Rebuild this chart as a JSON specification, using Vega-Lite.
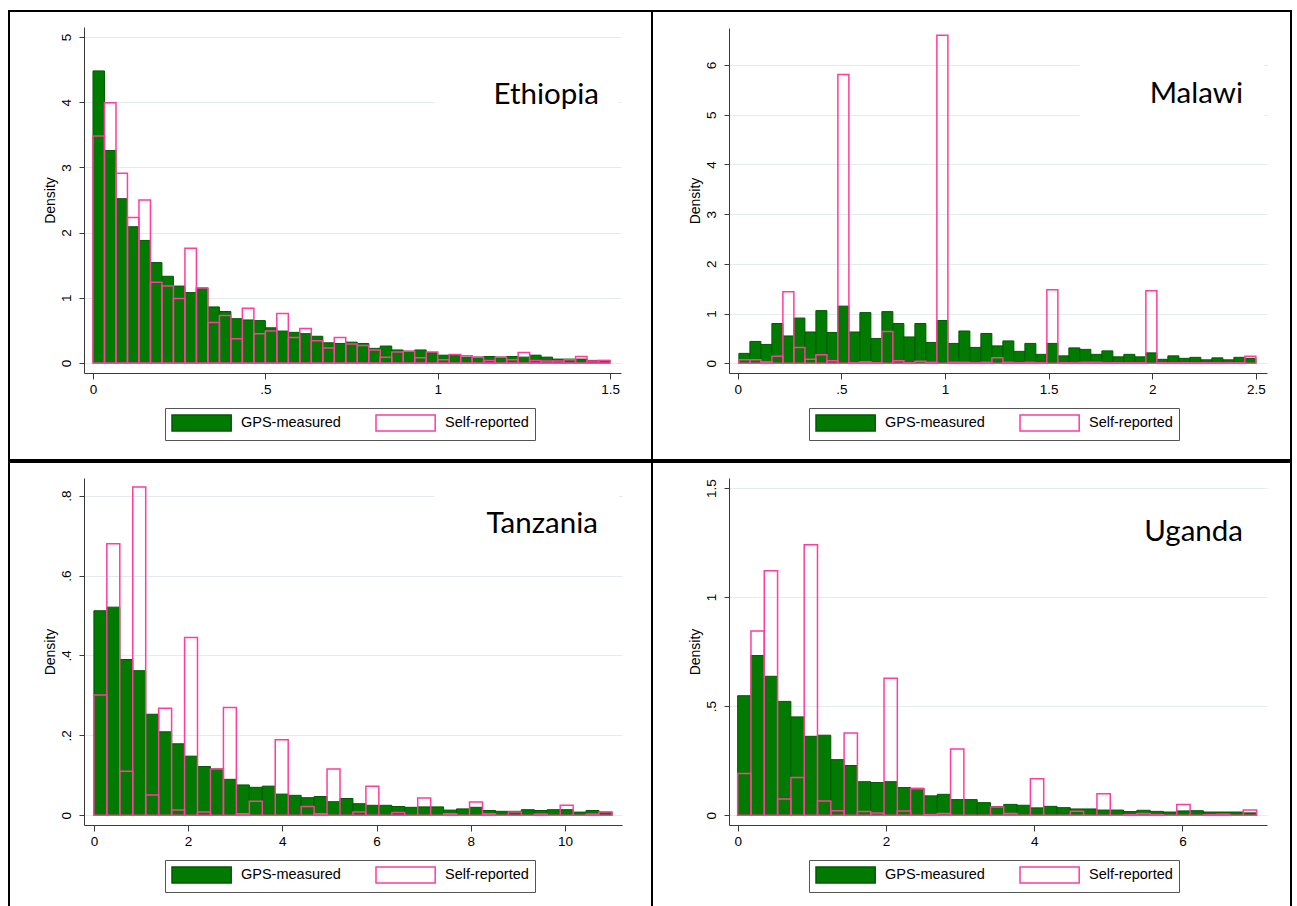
{
  "$schema": "https://vega.github.io/schema/vega-lite/v6.json",
  "background": "white",
  "padding": {"left": 8, "top": 10, "right": 0, "bottom": 0},
  "spacing": 0,
  "resolve": {"scale": {"fill": "independent", "stroke": "independent"}, "legend": {"fill": "independent", "stroke": "independent"}},
  "config": {
    "view": {"stroke": "black", "strokeWidth": 2, "fill": "white"},
    "concat": {"spacing": 0},
    "axis": {
      "labelFont": "Liberation Sans", "labelFontSize": 13.5, "labelColor": "#000",
      "titleFont": "Liberation Sans", "titleFontSize": 14, "titleFontWeight": "normal", "titleColor": "#000",
      "domainColor": "#3a3a3a", "tickColor": "#3a3a3a", "gridColor": "#e3ebee", "gridWidth": 1,
      "labelFlush": false, "labelOverlap": false,
      "labelExpr": "datum.value > 0 && datum.value < 1 ? slice(toString(datum.value), 1) : toString(datum.value)"
    },
    "axisX": {"grid": false, "tickSize": 6, "labelPadding": 3},
    "axisY": {"grid": true, "tickSize": 5, "labelAngle": 270, "labelAlign": "center", "labelBaseline": "bottom", "labelPadding": 6, "titlePadding": 2},
    "legend": {
      "orient": "none", "direction": "horizontal",
      "symbolType": "M-1,-1H6.4V1H-1Z", "symbolSize": 256, "symbolStrokeWidth": 1.5,
      "labelFont": "Liberation Sans", "labelFontSize": 14.5, "labelColor": "#000", "labelOffset": 52,
      "columnPadding": 32, "padding": 6, "strokeColor": "#555555", "fillColor": "white"
    }
  },
  "datasets": {
    "eth": [
      {"start":0,"end":0.0333,"gps":4.48,"self":3.48},
      {"start":0.0333,"end":0.0667,"gps":3.26,"self":3.99},
      {"start":0.0667,"end":0.1,"gps":2.52,"self":2.91},
      {"start":0.1,"end":0.1333,"gps":2.09,"self":2.23},
      {"start":0.1333,"end":0.1667,"gps":1.88,"self":2.5},
      {"start":0.1667,"end":0.2,"gps":1.54,"self":1.24},
      {"start":0.2,"end":0.2333,"gps":1.33,"self":1.18},
      {"start":0.2333,"end":0.2667,"gps":1.18,"self":0.99},
      {"start":0.2667,"end":0.3,"gps":1.08,"self":1.76},
      {"start":0.3,"end":0.3333,"gps":1.15,"self":1.15},
      {"start":0.3333,"end":0.3667,"gps":0.86,"self":0.62},
      {"start":0.3667,"end":0.4,"gps":0.79,"self":0.73},
      {"start":0.4,"end":0.4333,"gps":0.68,"self":0.37},
      {"start":0.4333,"end":0.4667,"gps":0.66,"self":0.84},
      {"start":0.4667,"end":0.5,"gps":0.65,"self":0.45},
      {"start":0.5,"end":0.5333,"gps":0.54,"self":0.49},
      {"start":0.5333,"end":0.5667,"gps":0.49,"self":0.76},
      {"start":0.5667,"end":0.6,"gps":0.47,"self":0.39},
      {"start":0.6,"end":0.6333,"gps":0.45,"self":0.53},
      {"start":0.6333,"end":0.6667,"gps":0.41,"self":0.34},
      {"start":0.6667,"end":0.7,"gps":0.31,"self":0.23},
      {"start":0.7,"end":0.7333,"gps":0.3,"self":0.39},
      {"start":0.7333,"end":0.7667,"gps":0.32,"self":0.29},
      {"start":0.7667,"end":0.8,"gps":0.3,"self":0.27},
      {"start":0.8,"end":0.8333,"gps":0.225,"self":0.2},
      {"start":0.8333,"end":0.8667,"gps":0.26,"self":0.09},
      {"start":0.8667,"end":0.9,"gps":0.2,"self":0.17},
      {"start":0.9,"end":0.9333,"gps":0.18,"self":0.18},
      {"start":0.9333,"end":0.9667,"gps":0.2,"self":0.08},
      {"start":0.9667,"end":1,"gps":0.16,"self":0.17},
      {"start":1,"end":1.0333,"gps":0.12,"self":0.05},
      {"start":1.0333,"end":1.0667,"gps":0.12,"self":0.13},
      {"start":1.0667,"end":1.1,"gps":0.09,"self":0.11},
      {"start":1.1,"end":1.1333,"gps":0.09,"self":0.09},
      {"start":1.1333,"end":1.1667,"gps":0.1,"self":0.04},
      {"start":1.1667,"end":1.2,"gps":0.09,"self":0.09},
      {"start":1.2,"end":1.2333,"gps":0.1,"self":0.05},
      {"start":1.2333,"end":1.2667,"gps":0.09,"self":0.16},
      {"start":1.2667,"end":1.3,"gps":0.12,"self":0.04},
      {"start":1.3,"end":1.3333,"gps":0.09,"self":0.03},
      {"start":1.3333,"end":1.3667,"gps":0.06,"self":0.03},
      {"start":1.3667,"end":1.4,"gps":0.06,"self":0.05},
      {"start":1.4,"end":1.4333,"gps":0.06,"self":0.1},
      {"start":1.4333,"end":1.4667,"gps":0.04,"self":0.03},
      {"start":1.4667,"end":1.5,"gps":0.04,"self":0.04}
    ],
    "mal": [
      {"start":0.006,"end":0.0591,"gps":0.2,"self":0.07},
      {"start":0.0591,"end":0.1121,"gps":0.44,"self":0.07},
      {"start":0.1121,"end":0.1652,"gps":0.38,"self":0.03},
      {"start":0.1652,"end":0.2182,"gps":0.8,"self":0.14},
      {"start":0.2182,"end":0.2713,"gps":0.55,"self":1.44},
      {"start":0.2713,"end":0.3244,"gps":0.91,"self":0.32},
      {"start":0.3244,"end":0.3774,"gps":0.63,"self":0.08},
      {"start":0.3774,"end":0.4305,"gps":1.06,"self":0.17},
      {"start":0.4305,"end":0.4835,"gps":0.62,"self":0.05},
      {"start":0.4835,"end":0.5366,"gps":1.15,"self":5.81},
      {"start":0.5366,"end":0.5897,"gps":0.63,"self":0.01},
      {"start":0.5897,"end":0.6427,"gps":1.02,"self":0.03},
      {"start":0.6427,"end":0.6958,"gps":0.5,"self":0.01},
      {"start":0.6958,"end":0.7488,"gps":1.04,"self":0.64},
      {"start":0.7488,"end":0.8019,"gps":0.8,"self":0.05},
      {"start":0.8019,"end":0.855,"gps":0.53,"self":0.01},
      {"start":0.855,"end":0.908,"gps":0.8,"self":0.04},
      {"start":0.908,"end":0.9611,"gps":0.42,"self":0.02},
      {"start":0.9611,"end":1.0141,"gps":0.86,"self":6.6},
      {"start":1.0141,"end":1.0672,"gps":0.4,"self":0.02},
      {"start":1.0672,"end":1.1203,"gps":0.65,"self":0.02},
      {"start":1.1203,"end":1.1733,"gps":0.32,"self":0.01},
      {"start":1.1733,"end":1.2264,"gps":0.6,"self":0.02},
      {"start":1.2264,"end":1.2794,"gps":0.35,"self":0.11},
      {"start":1.2794,"end":1.3325,"gps":0.45,"self":0.02},
      {"start":1.3325,"end":1.3856,"gps":0.24,"self":0.01},
      {"start":1.3856,"end":1.4386,"gps":0.4,"self":0.02},
      {"start":1.4386,"end":1.4917,"gps":0.18,"self":0.01},
      {"start":1.4917,"end":1.5447,"gps":0.4,"self":1.48},
      {"start":1.5447,"end":1.5978,"gps":0.15,"self":0.01},
      {"start":1.5978,"end":1.6509,"gps":0.31,"self":0.01},
      {"start":1.6509,"end":1.7039,"gps":0.28,"self":0.02},
      {"start":1.7039,"end":1.757,"gps":0.18,"self":0.02},
      {"start":1.757,"end":1.81,"gps":0.25,"self":0.01},
      {"start":1.81,"end":1.8631,"gps":0.13,"self":0.01},
      {"start":1.8631,"end":1.9162,"gps":0.18,"self":0.01},
      {"start":1.9162,"end":1.9692,"gps":0.13,"self":0.01},
      {"start":1.9692,"end":2.0223,"gps":0.21,"self":1.46},
      {"start":2.0223,"end":2.0753,"gps":0.08,"self":0.01},
      {"start":2.0753,"end":2.1284,"gps":0.15,"self":0.01},
      {"start":2.1284,"end":2.1815,"gps":0.1,"self":0.01},
      {"start":2.1815,"end":2.2345,"gps":0.12,"self":0.01},
      {"start":2.2345,"end":2.2876,"gps":0.07,"self":0.01},
      {"start":2.2876,"end":2.3406,"gps":0.11,"self":0.01},
      {"start":2.3406,"end":2.3937,"gps":0.07,"self":0.01},
      {"start":2.3937,"end":2.4468,"gps":0.12,"self":0.01},
      {"start":2.4468,"end":2.5,"gps":0.1,"self":0.14}
    ],
    "tan": [
      {"start":0,"end":0.275,"gps":0.512,"self":0.301},
      {"start":0.275,"end":0.55,"gps":0.521,"self":0.68},
      {"start":0.55,"end":0.825,"gps":0.39,"self":0.11},
      {"start":0.825,"end":1.1,"gps":0.362,"self":0.822},
      {"start":1.1,"end":1.375,"gps":0.253,"self":0.051},
      {"start":1.375,"end":1.65,"gps":0.209,"self":0.268},
      {"start":1.65,"end":1.925,"gps":0.179,"self":0.013},
      {"start":1.925,"end":2.2,"gps":0.148,"self":0.445},
      {"start":2.2,"end":2.475,"gps":0.122,"self":0.008},
      {"start":2.475,"end":2.75,"gps":0.116,"self":0.116},
      {"start":2.75,"end":3.025,"gps":0.09,"self":0.27},
      {"start":3.025,"end":3.3,"gps":0.076,"self":0.004},
      {"start":3.3,"end":3.575,"gps":0.07,"self":0.035},
      {"start":3.575,"end":3.85,"gps":0.073,"self":0},
      {"start":3.85,"end":4.125,"gps":0.053,"self":0.189},
      {"start":4.125,"end":4.4,"gps":0.05,"self":0},
      {"start":4.4,"end":4.675,"gps":0.044,"self":0.022},
      {"start":4.675,"end":4.95,"gps":0.047,"self":0.004},
      {"start":4.95,"end":5.225,"gps":0.034,"self":0.116},
      {"start":5.225,"end":5.5,"gps":0.042,"self":0},
      {"start":5.5,"end":5.775,"gps":0.029,"self":0.008},
      {"start":5.775,"end":6.05,"gps":0.025,"self":0.073},
      {"start":6.05,"end":6.325,"gps":0.025,"self":0},
      {"start":6.325,"end":6.6,"gps":0.022,"self":0.007},
      {"start":6.6,"end":6.875,"gps":0.02,"self":0},
      {"start":6.875,"end":7.15,"gps":0.021,"self":0.043},
      {"start":7.15,"end":7.425,"gps":0.021,"self":0},
      {"start":7.425,"end":7.7,"gps":0.013,"self":0.004},
      {"start":7.7,"end":7.975,"gps":0.016,"self":0},
      {"start":7.975,"end":8.25,"gps":0.02,"self":0.033},
      {"start":8.25,"end":8.525,"gps":0.012,"self":0.004},
      {"start":8.525,"end":8.8,"gps":0.01,"self":0},
      {"start":8.8,"end":9.075,"gps":0.01,"self":0.008},
      {"start":9.075,"end":9.35,"gps":0.014,"self":0},
      {"start":9.35,"end":9.625,"gps":0.012,"self":0.003},
      {"start":9.625,"end":9.9,"gps":0.014,"self":0},
      {"start":9.9,"end":10.175,"gps":0.014,"self":0.025},
      {"start":10.175,"end":10.45,"gps":0.008,"self":0},
      {"start":10.45,"end":10.725,"gps":0.012,"self":0.003},
      {"start":10.725,"end":11,"gps":0.008,"self":0.008}
    ],
    "uga": [
      {"start":0,"end":0.1795,"gps":0.548,"self":0.191},
      {"start":0.1795,"end":0.359,"gps":0.732,"self":0.845},
      {"start":0.359,"end":0.5385,"gps":0.637,"self":1.121},
      {"start":0.5385,"end":0.7179,"gps":0.522,"self":0.075},
      {"start":0.7179,"end":0.8974,"gps":0.451,"self":0.173},
      {"start":0.8974,"end":1.0769,"gps":0.362,"self":1.24},
      {"start":1.0769,"end":1.2564,"gps":0.367,"self":0.066},
      {"start":1.2564,"end":1.4359,"gps":0.255,"self":0.021},
      {"start":1.4359,"end":1.6154,"gps":0.228,"self":0.377},
      {"start":1.6154,"end":1.7949,"gps":0.154,"self":0.017},
      {"start":1.7949,"end":1.9744,"gps":0.15,"self":0.011},
      {"start":1.9744,"end":2.1538,"gps":0.154,"self":0.628},
      {"start":2.1538,"end":2.3333,"gps":0.127,"self":0.02},
      {"start":2.3333,"end":2.5128,"gps":0.124,"self":0.122},
      {"start":2.5128,"end":2.6923,"gps":0.089,"self":0.003},
      {"start":2.6923,"end":2.8718,"gps":0.096,"self":0.008},
      {"start":2.8718,"end":3.0513,"gps":0.072,"self":0.304},
      {"start":3.0513,"end":3.2308,"gps":0.072,"self":0},
      {"start":3.2308,"end":3.4103,"gps":0.058,"self":0},
      {"start":3.4103,"end":3.5897,"gps":0.04,"self":0.038},
      {"start":3.5897,"end":3.7692,"gps":0.05,"self":0.008},
      {"start":3.7692,"end":3.9487,"gps":0.046,"self":0},
      {"start":3.9487,"end":4.1282,"gps":0.034,"self":0.167},
      {"start":4.1282,"end":4.3077,"gps":0.041,"self":0},
      {"start":4.3077,"end":4.4872,"gps":0.035,"self":0},
      {"start":4.4872,"end":4.6667,"gps":0.029,"self":0.018},
      {"start":4.6667,"end":4.8462,"gps":0.029,"self":0},
      {"start":4.8462,"end":5.0256,"gps":0.024,"self":0.099},
      {"start":5.0256,"end":5.2051,"gps":0.024,"self":0},
      {"start":5.2051,"end":5.3846,"gps":0.017,"self":0.003},
      {"start":5.3846,"end":5.5641,"gps":0.023,"self":0.008},
      {"start":5.5641,"end":5.7436,"gps":0.018,"self":0.003},
      {"start":5.7436,"end":5.9231,"gps":0.015,"self":0},
      {"start":5.9231,"end":6.1026,"gps":0.02,"self":0.05},
      {"start":6.1026,"end":6.2821,"gps":0.021,"self":0},
      {"start":6.2821,"end":6.4615,"gps":0.015,"self":0.003},
      {"start":6.4615,"end":6.641,"gps":0.015,"self":0.005},
      {"start":6.641,"end":6.8205,"gps":0.015,"self":0},
      {"start":6.8205,"end":7,"gps":0.011,"self":0.024}
    ]
  },
  "vconcat": [
    {
      "resolve": {"scale": {"fill": "independent", "stroke": "independent"}, "legend": {"fill": "independent", "stroke": "independent"}},
      "hconcat": [
        {
          "width": 643, "height": 449,
          "data": {"name": "eth"},
          "transform": [{"fold": ["gps", "self"], "as": ["series", "density"]}],
          "layer": [
            {
              "data": {"values": [{}]},
              "mark": {"type": "rect", "color": "white"},
              "encoding": {"x": {"datum": 0.99}, "x2": {"datum": 1.525}, "y": {"datum": 3.5}, "y2": {"datum": 4.6}}
            },
            {
              "transform": [{"filter": "datum.series == 'gps'"}],
              "mark": {"type": "bar", "strokeWidth": 1},
              "encoding": {
                "x": {"field": "start", "type": "quantitative", "scale": {"domain": [-0.0261, 1.5318], "range": [75, 612], "nice": false, "zero": false},
                      "axis": {"title": null, "values": [0, 0.5, 1, 1.5], "offset": -87}},
                "x2": {"field": "end"},
                "y": {"field": "density", "type": "quantitative", "scale": {"domain": [-0.1534, 5.1534], "range": [362, 16], "nice": false, "zero": false},
                      "axis": {"title": "Density", "values": [0, 1, 2, 3, 4, 5], "offset": -75}},
                "y2": {"datum": 0},
                "fill": {"field": "series", "type": "nominal", "scale": {"domain": ["gps", "self"], "range": ["#007a00", "rgba(255,255,255,0)"]},
                         "legend": {"title": null, "legendX": 156, "legendY": 397, "labelExpr": "datum.label == 'gps' ? 'GPS-measured' : 'Self-reported'"}},
                "stroke": {"field": "series", "type": "nominal", "scale": {"domain": ["gps", "self"], "range": ["#005a00", "#ff3d9e"]},
                         "legend": {"title": null, "legendX": 156, "legendY": 397, "labelExpr": "datum.label == 'gps' ? 'GPS-measured' : 'Self-reported'"}}
              }
            },
            {
              "transform": [{"filter": "datum.series == 'self'"}],
              "mark": {"type": "bar", "strokeWidth": 1.5},
              "encoding": {
                "x": {"field": "start", "type": "quantitative"},
                "x2": {"field": "end"},
                "y": {"field": "density", "type": "quantitative"},
                "y2": {"datum": 0},
                "fill": {"field": "series", "type": "nominal"},
                "stroke": {"field": "series", "type": "nominal"}
              }
            },
            {
              "data": {"values": [{"name": "Ethiopia"}]},
              "mark": {"type": "text", "font": "Lato", "fontSize": 29.5, "color": "#000", "align": "right", "baseline": "alphabetic"},
              "encoding": {"x": {"datum": 1.468}, "y": {"datum": 3.97}, "text": {"field": "name"}}
            }
          ]
        },
        {
          "width": 639, "height": 449,
          "data": {"name": "mal"},
          "transform": [{"fold": ["gps", "self"], "as": ["series", "density"]}],
          "layer": [
            {
              "data": {"values": [{}]},
              "mark": {"type": "rect", "color": "white"},
              "encoding": {"x": {"datum": 1.65}, "x2": {"datum": 2.54}, "y": {"datum": 4.7}, "y2": {"datum": 6.4}}
            },
            {
              "transform": [{"filter": "datum.series == 'gps'"}],
              "mark": {"type": "bar", "strokeWidth": 1},
              "encoding": {
                "x": {"field": "start", "type": "quantitative", "scale": {"domain": [-0.0417, 2.5536], "range": [77, 615], "nice": false, "zero": false},
                      "axis": {"title": null, "values": [0, 0.5, 1, 1.5, 2, 2.5], "offset": -87}},
                "x2": {"field": "end"},
                "y": {"field": "density", "type": "quantitative", "scale": {"domain": [-0.195, 6.744], "range": [362, 17], "nice": false, "zero": false},
                      "axis": {"title": "Density", "values": [0, 1, 2, 3, 4, 5, 6], "offset": -77}},
                "y2": {"datum": 0},
                "fill": {"field": "series", "type": "nominal", "scale": {"domain": ["gps", "self"], "range": ["#007a00", "rgba(255,255,255,0)"]},
                         "legend": {"title": null, "legendX": 157, "legendY": 397, "labelExpr": "datum.label == 'gps' ? 'GPS-measured' : 'Self-reported'"}},
                "stroke": {"field": "series", "type": "nominal", "scale": {"domain": ["gps", "self"], "range": ["#005a00", "#ff3d9e"]},
                         "legend": {"title": null, "legendX": 157, "legendY": 397, "labelExpr": "datum.label == 'gps' ? 'GPS-measured' : 'Self-reported'"}}
              }
            },
            {
              "transform": [{"filter": "datum.series == 'self'"}],
              "mark": {"type": "bar", "strokeWidth": 1.5},
              "encoding": {
                "x": {"field": "start", "type": "quantitative"},
                "x2": {"field": "end"},
                "y": {"field": "density", "type": "quantitative"},
                "y2": {"datum": 0},
                "fill": {"field": "series", "type": "nominal"},
                "stroke": {"field": "series", "type": "nominal"}
              }
            },
            {
              "data": {"values": [{"name": "Malawi"}]},
              "mark": {"type": "text", "font": "Lato", "fontSize": 29.5, "color": "#000", "align": "right", "baseline": "alphabetic"},
              "encoding": {"x": {"datum": 2.438}, "y": {"datum": 5.24}, "text": {"field": "name"}}
            }
          ]
        }
      ],
      "spacing": 0,
      "bounds": "flush"
    },
    {
      "resolve": {"scale": {"fill": "independent", "stroke": "independent"}, "legend": {"fill": "independent", "stroke": "independent"}},
      "hconcat": [
        {
          "width": 643, "height": 447,
          "data": {"name": "tan"},
          "transform": [{"fold": ["gps", "self"], "as": ["series", "density"]}],
          "layer": [
            {
              "data": {"values": [{}]},
              "mark": {"type": "rect", "color": "white"},
              "encoding": {"x": {"datum": 7.22}, "x2": {"datum": 11.15}, "y": {"datum": 0.65}, "y2": {"datum": 0.84}}
            },
            {
              "transform": [{"filter": "datum.series == 'gps'"}],
              "mark": {"type": "bar", "strokeWidth": 1},
              "encoding": {
                "x": {"field": "start", "type": "quantitative", "scale": {"domain": [-0.21, 11.212], "range": [75, 613], "nice": false, "zero": false},
                      "axis": {"title": null, "values": [0, 2, 4, 6, 8, 10], "offset": -84}},
                "x2": {"field": "end"},
                "y": {"field": "density", "type": "quantitative", "scale": {"domain": [-0.0243, 0.8443], "range": [363, 16], "nice": false, "zero": false},
                      "axis": {"title": "Density", "values": [0, 0.2, 0.4, 0.6, 0.8], "offset": -75}},
                "y2": {"datum": 0},
                "fill": {"field": "series", "type": "nominal", "scale": {"domain": ["gps", "self"], "range": ["#007a00", "rgba(255,255,255,0)"]},
                         "legend": {"title": null, "legendX": 156, "legendY": 398, "labelExpr": "datum.label == 'gps' ? 'GPS-measured' : 'Self-reported'"}},
                "stroke": {"field": "series", "type": "nominal", "scale": {"domain": ["gps", "self"], "range": ["#005a00", "#ff3d9e"]},
                         "legend": {"title": null, "legendX": 156, "legendY": 398, "labelExpr": "datum.label == 'gps' ? 'GPS-measured' : 'Self-reported'"}}
              }
            },
            {
              "transform": [{"filter": "datum.series == 'self'"}],
              "mark": {"type": "bar", "strokeWidth": 1.5},
              "encoding": {
                "x": {"field": "start", "type": "quantitative"},
                "x2": {"field": "end"},
                "y": {"field": "density", "type": "quantitative"},
                "y2": {"datum": 0},
                "fill": {"field": "series", "type": "nominal"},
                "stroke": {"field": "series", "type": "nominal"}
              }
            },
            {
              "data": {"values": [{"name": "Tanzania"}]},
              "mark": {"type": "text", "font": "Lato", "fontSize": 29.5, "color": "#000", "align": "right", "baseline": "alphabetic"},
              "encoding": {"x": {"datum": 10.7}, "y": {"datum": 0.707}, "text": {"field": "name"}}
            }
          ]
        },
        {
          "width": 639, "height": 447,
          "data": {"name": "uga"},
          "transform": [{"fold": ["gps", "self"], "as": ["series", "density"]}],
          "layer": [
            {
              "transform": [{"filter": "datum.series == 'gps'"}],
              "mark": {"type": "bar", "strokeWidth": 1},
              "encoding": {
                "x": {"field": "start", "type": "quantitative", "scale": {"domain": [-0.1167, 7.14], "range": [77, 615], "nice": false, "zero": false},
                      "axis": {"title": null, "values": [0, 2, 4, 6], "offset": -84}},
                "x2": {"field": "end"},
                "y": {"field": "density", "type": "quantitative", "scale": {"domain": [-0.0445, 1.5458], "range": [363, 16], "nice": false, "zero": false},
                      "axis": {"title": "Density", "values": [0, 0.5, 1, 1.5], "offset": -77}},
                "y2": {"datum": 0},
                "fill": {"field": "series", "type": "nominal", "scale": {"domain": ["gps", "self"], "range": ["#007a00", "rgba(255,255,255,0)"]},
                         "legend": {"title": null, "legendX": 157, "legendY": 398, "labelExpr": "datum.label == 'gps' ? 'GPS-measured' : 'Self-reported'"}},
                "stroke": {"field": "series", "type": "nominal", "scale": {"domain": ["gps", "self"], "range": ["#005a00", "#ff3d9e"]},
                         "legend": {"title": null, "legendX": 157, "legendY": 398, "labelExpr": "datum.label == 'gps' ? 'GPS-measured' : 'Self-reported'"}}
              }
            },
            {
              "transform": [{"filter": "datum.series == 'self'"}],
              "mark": {"type": "bar", "strokeWidth": 1.5},
              "encoding": {
                "x": {"field": "start", "type": "quantitative"},
                "x2": {"field": "end"},
                "y": {"field": "density", "type": "quantitative"},
                "y2": {"datum": 0},
                "fill": {"field": "series", "type": "nominal"},
                "stroke": {"field": "series", "type": "nominal"}
              }
            },
            {
              "data": {"values": [{"name": "Uganda"}]},
              "mark": {"type": "text", "font": "Lato", "fontSize": 29.5, "color": "#000", "align": "right", "baseline": "alphabetic"},
              "encoding": {"x": {"datum": 6.816}, "y": {"datum": 1.258}, "text": {"field": "name"}}
            }
          ]
        }
      ],
      "spacing": 0,
      "bounds": "flush"
    }
  ]
}
